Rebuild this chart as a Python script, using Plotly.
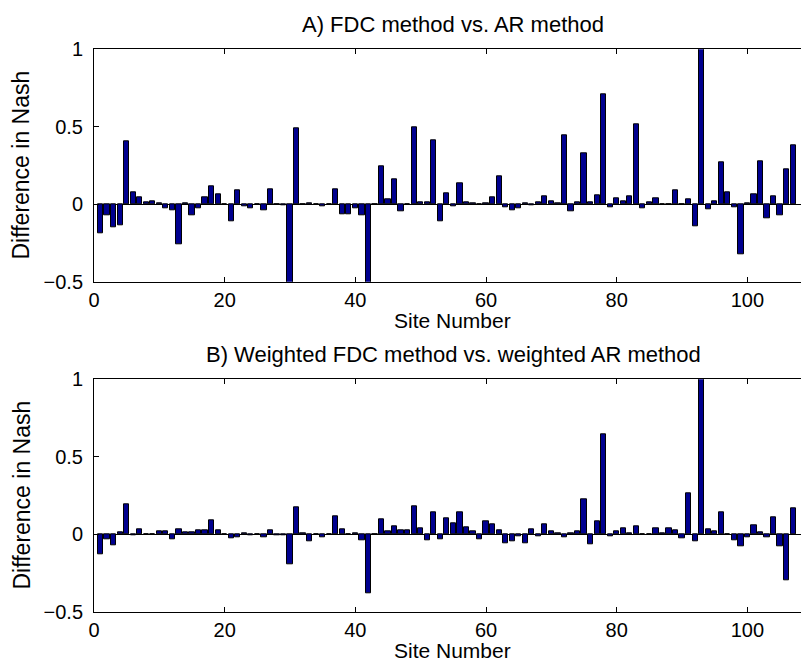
import plotly.graph_objects as go

sites = list(range(1, 108))

diff_a = [
    -0.185, -0.069, -0.148, -0.133, 0.406, 0.075, 0.047, 0.010, 0.019, 0.003,
    -0.026, -0.040, -0.256, 0.005, -0.069, -0.026, 0.045, 0.118, 0.067, -0.003,
    -0.112, 0.090, -0.013, -0.026, 0.000, -0.039, 0.097, 0.000, -0.008, -0.600,
    0.488, 0.000, 0.006, 0.000, -0.012, -0.003, 0.095, -0.062, -0.062, -0.026,
    -0.069, -0.600, 0.000, 0.243, 0.032, 0.163, -0.047, 0.000, 0.495, 0.011,
    0.015, 0.410, -0.112, 0.069, -0.013, 0.135, 0.015, 0.003, -0.003, 0.005,
    0.045, 0.180, -0.019, -0.040, -0.026, 0.003, -0.005, 0.015, 0.054, 0.017,
    0.005, 0.443, -0.047, 0.015, 0.329, 0.015, 0.056, 0.710, -0.017, 0.037,
    0.019, 0.054, 0.516, -0.024, 0.015, 0.039, 0.002, 0.000, 0.092, -0.003,
    0.032, -0.142, 1.100, -0.032, 0.019, 0.271, 0.080, -0.019, -0.323, 0.003,
    0.062, 0.280, -0.090, 0.052, -0.069, 0.224, 0.383,
]

diff_b = [
    -0.127, -0.030, -0.071, 0.015, 0.196, -0.004, 0.032, 0.000, 0.000, 0.017,
    0.022, -0.030, 0.032, 0.015, 0.015, 0.028, 0.028, 0.088, 0.024, -0.003,
    -0.024, -0.017, 0.003, -0.005, 0.000, -0.021, 0.024, -0.004, -0.005, -0.196,
    0.172, 0.005, -0.043, 0.000, -0.017, 0.000, 0.114, 0.030, 0.000, 0.003,
    -0.039, -0.380, 0.000, 0.095, 0.019, 0.052, 0.026, 0.026, 0.180, 0.039,
    -0.037, 0.140, -0.032, 0.103, 0.069, 0.142, 0.045, 0.017, -0.030, 0.086,
    0.062, 0.028, -0.058, -0.043, -0.013, -0.056, 0.032, -0.013, 0.067, 0.017,
    0.003, -0.017, 0.003, 0.022, 0.228, -0.067, 0.086, 0.647, -0.011, 0.022,
    0.041, 0.009, 0.054, -0.003, 0.000, 0.037, 0.003, 0.037, 0.028, -0.024,
    0.267, -0.043, 1.100, 0.032, 0.019, 0.142, 0.000, -0.037, -0.075, -0.017,
    0.056, 0.015, -0.017, 0.110, -0.075, -0.295, 0.168,
]

titles = ["A) FDC method vs. AR method", "B) Weighted FDC method vs. weighted AR method"]
x_label = "Site Number"
y_label = "Difference in Nash"

W, H = 801, 666
FONT = "Liberation Sans, Arial, Helvetica, sans-serif"
BAR_COLOR = "#00008F"

fig = go.Figure()
fig.add_trace(go.Bar(x=sites, y=diff_a, width=0.8, marker=dict(color=BAR_COLOR, line=dict(color="black", width=1)),
                     xaxis="x", yaxis="y", showlegend=False))
fig.add_trace(go.Bar(x=sites, y=diff_b, width=0.8, marker=dict(color=BAR_COLOR, line=dict(color="black", width=1)),
                     xaxis="x2", yaxis="y2", showlegend=False))

x_dom = [94 / W, 1.0]
top_px = (49.3, 281.7)
bot_px = (379.3, 611.7)
def dom(p):
    return [1 - p[1] / H, 1 - p[0] / H]

xcommon = dict(range=[0, 108.2], tickvals=[0, 20, 40, 60, 80, 100], ticks="inside", ticklen=5,
               tickcolor="black", showline=True, linecolor="black", linewidth=1, mirror="ticks",
               showgrid=False, zeroline=False, automargin=False,
               tickfont=dict(family=FONT, size=20, color="black"), domain=x_dom)
ycommon = dict(range=[-0.5, 1], tickvals=[-0.5, 0, 0.5, 1], ticktext=["\u22120.5", "0", "0.5", "1"],
               ticks="inside", ticklen=5, tickcolor="black", showline=True, linecolor="black",
               linewidth=1, mirror=False, showgrid=False, zeroline=True, zerolinecolor="black",
               zerolinewidth=1, automargin=False, ticklabelstandoff=6,
               tickfont=dict(family=FONT, size=20, color="black"))

fig.update_layout(
    template="none",
    width=W, height=H, margin=dict(l=0, r=0, t=0, b=0, autoexpand=False),
    paper_bgcolor="white", plot_bgcolor="white", bargap=0,
    xaxis=dict(xcommon, anchor="y"),
    yaxis=dict(ycommon, domain=dom(top_px), anchor="x"),
    xaxis2=dict(xcommon, anchor="y2"),
    yaxis2=dict(ycommon, domain=dom(bot_px), anchor="x2"),
)

def ann(text, xpx, ypx, size, angle=0):
    fig.add_annotation(text=text, x=xpx / W, y=1 - ypx / H, xref="paper", yref="paper",
                       showarrow=False, xanchor="center", yanchor="middle", textangle=angle,
                       font=dict(family=FONT, size=size, color="black"))

ann(titles[0], 453, 25, 22)
ann(x_label, 452, 320, 21)
ann(titles[1], 453, 354, 22)
ann(x_label, 452, 650, 21)
ann(y_label, 21, (top_px[0] + top_px[1]) / 2, 23, -90)
ann(y_label, 21, (bot_px[0] + bot_px[1]) / 2, 23, -90)

fig.write_html("out.html")
